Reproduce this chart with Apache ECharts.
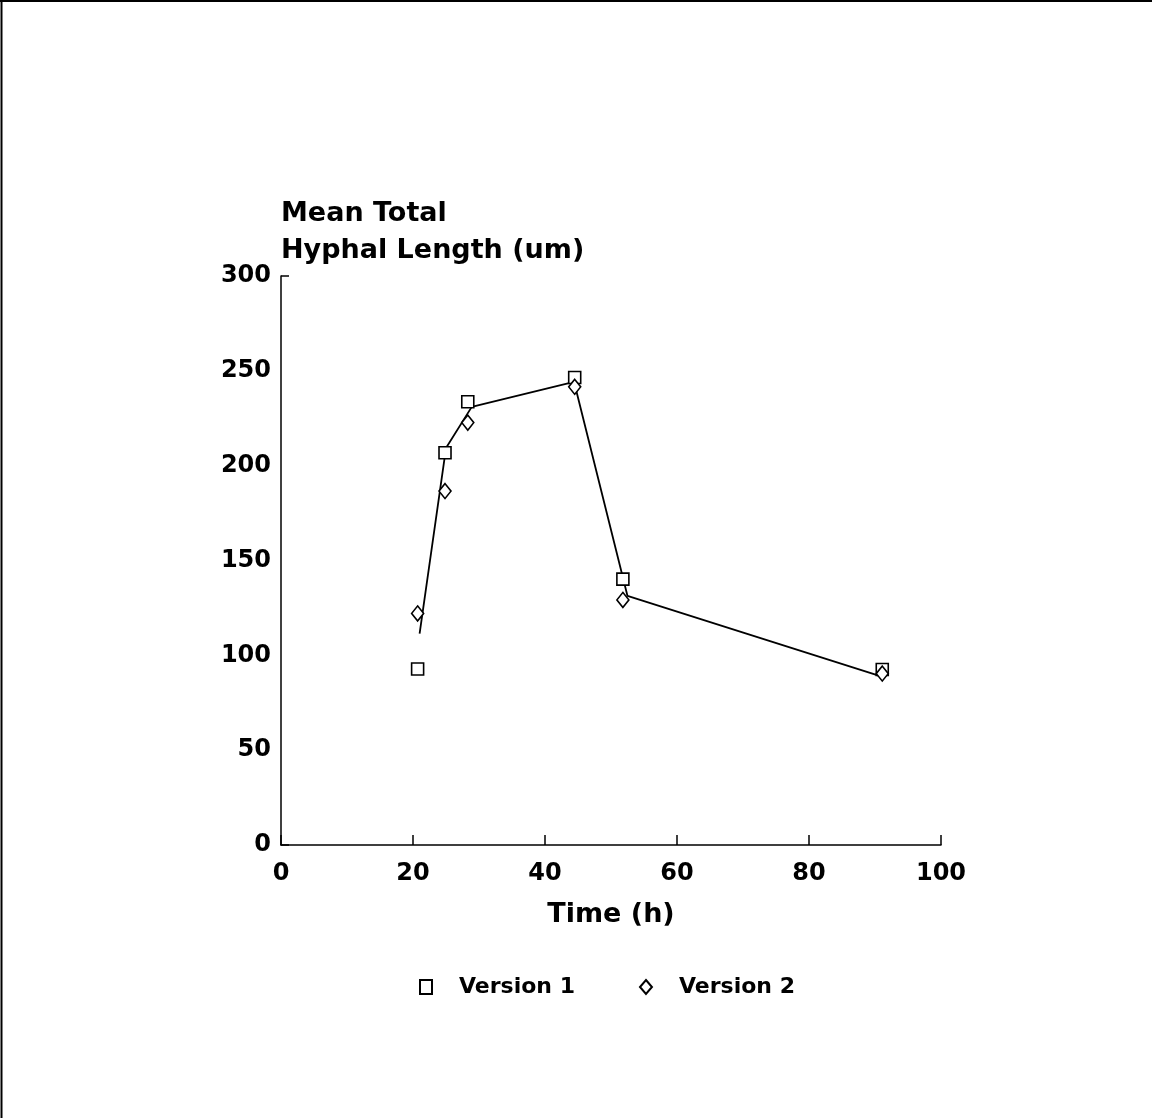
<!DOCTYPE html>
<html>
<head>
<meta charset="utf-8">
<title>Mean Total Hyphal Length</title>
<script src="https://cdn.jsdelivr.net/npm/echarts@6/dist/echarts.min.js"></script>
<style>
  html, body { margin: 0; padding: 0; background: #fff; }
  #chart { width: 1152px; height: 1118px; }
</style>
</head>
<body>
<div id="chart"></div>
<script>
// Sampling times (h)
const times = [20.7, 24.85, 28.3, 44.5, 51.8, 91.1];
// Mean total hyphal length (um) for each version
const version1 = [92.8, 206.8, 233.7, 246.5, 140.2, 92.5];
const version2 = [122.1, 186.6, 222.7, 241.6, 129.2, 90.4];
// Fitted curve through both versions
const fitTimes = [21.0, 25.0, 28.9, 44.4, 52.5, 90.8];
const fitValues = [111.5, 209.3, 231.0, 244.2, 131.3, 89.0];
// Axis ranges
const xTicks = [0, 20, 40, 60, 80, 100];
const yTicks = [0, 50, 100, 150, 200, 250, 300];

const FONT = '"DejaVu Sans", sans-serif';
const pairs = (xs, ys) => xs.map((x, i) => [x, ys[i]]);

const chart = echarts.init(document.getElementById('chart'), null, { renderer: 'canvas' });

chart.setOption({
  backgroundColor: '#ffffff',
  animation: false,
  grid: { left: 281, right: 211, top: 276, bottom: 273, containLabel: false },
  legend: {
    left: 414,
    top: 971,
    orient: 'horizontal',
    itemWidth: 12,
    itemHeight: 14,
    itemGap: 64,
    data: ['Version 1', 'Version 2'],
    textStyle: {
      fontFamily: FONT,
      fontWeight: 'bold',
      fontSize: 22,
      color: '#000',
      padding: [0, 0, 0, 22]
    }
  },
  xAxis: {
    type: 'value',
    min: xTicks[0],
    max: xTicks[xTicks.length - 1],
    interval: xTicks[1] - xTicks[0],
    name: 'Time (h)',
    nameLocation: 'middle',
    nameGap: 56,
    nameTextStyle: { fontFamily: FONT, fontWeight: 'bold', fontSize: 27, color: '#000' },
    axisLine: { show: true, onZero: false, lineStyle: { color: '#000', width: 1.5 } },
    axisTick: { show: true, inside: true, length: 10, lineStyle: { color: '#000', width: 1.5 } },
    axisLabel: { fontFamily: FONT, fontWeight: 'bold', fontSize: 24, color: '#000', margin: 17 },
    splitLine: { show: false }
  },
  yAxis: [
    {
      type: 'value',
      min: yTicks[0],
      max: yTicks[yTicks.length - 1],
      interval: yTicks[1] - yTicks[0],
      name: 'Mean Total\nHyphal Length (um)',
      nameLocation: 'end',
      nameGap: 7,
      nameTextStyle: {
        fontFamily: FONT, fontWeight: 'bold', fontSize: 27, color: '#000',
        align: 'left', verticalAlign: 'bottom', lineHeight: 37
      },
      axisLine: { show: true, onZero: false, lineStyle: { color: '#000', width: 1.5 } },
      axisTick: { show: false },
      axisLabel: { fontFamily: FONT, fontWeight: 'bold', fontSize: 24, color: '#000', margin: 10 },
      splitLine: { show: false }
    },
    {
      // single inward tick at the top of the vertical axis
      type: 'value',
      position: 'left',
      min: yTicks[0],
      max: yTicks[yTicks.length - 1],
      interval: yTicks[yTicks.length - 1] - yTicks[0],
      axisLine: { show: false },
      axisTick: { show: true, inside: true, length: 8, lineStyle: { color: '#000', width: 1.5 } },
      axisLabel: { show: false },
      splitLine: { show: false }
    }
  ],
  series: [
    {
      name: 'Fit',
      type: 'line',
      data: pairs(fitTimes, fitValues),
      showSymbol: false,
      symbol: 'none',
      lineStyle: { color: '#000', width: 1.8 },
      z: 1
    },
    {
      name: 'Version 1',
      type: 'scatter',
      data: pairs(times, version1),
      symbol: 'rect',
      symbolSize: 12,
      itemStyle: { color: '#fff', borderColor: '#000', borderWidth: 1.6, opacity: 1 },
      z: 3
    },
    {
      name: 'Version 2',
      type: 'scatter',
      data: pairs(times, version2),
      symbol: 'diamond',
      symbolSize: [12, 15],
      itemStyle: { color: '#fff', borderColor: '#000', borderWidth: 1.6, opacity: 1 },
      z: 3
    }
  ],
  graphic: [
    // page frame
    { type: 'line', shape: { x1: 0, y1: 1, x2: 1152, y2: 1 }, style: { stroke: '#000', lineWidth: 2 }, silent: true },
    { type: 'line', shape: { x1: 1.5, y1: 0, x2: 1.5, y2: 1118 }, style: { stroke: '#000', lineWidth: 2 }, silent: true }
  ]
});
</script>
</body>
</html>
